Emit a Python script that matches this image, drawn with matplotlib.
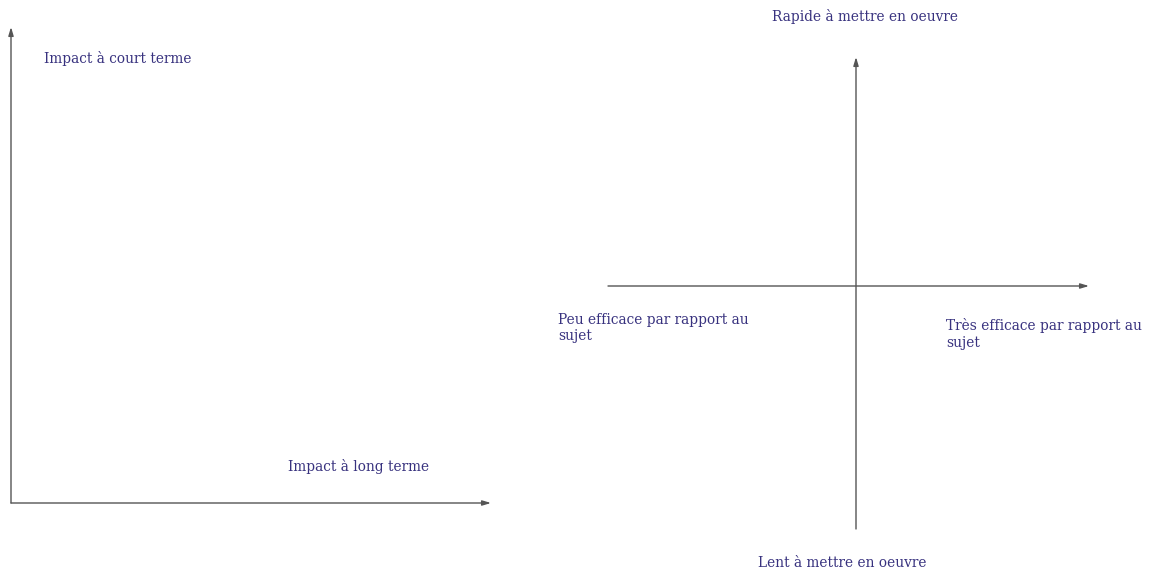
import matplotlib
matplotlib.use("Agg")
import matplotlib.pyplot as plt

# axis labels of the two diagrams
left_labels = ["Impact à court terme", "Impact à long terme"]
right_labels = ["Rapide à mettre en oeuvre", "Lent à mettre en oeuvre",
                "Peu efficace par rapport au\nsujet", "Très efficace par rapport au\nsujet"]

TXT = "#38327f"
ARR = "#555555"

fig = plt.figure(figsize=(11.5, 5.74), dpi=100)
ax = fig.add_axes([0, 0, 1, 1])
ax.set_xlim(0, 1150)
ax.set_ylim(574, 0)
ax.axis("off")

def arrow(x0, y0, x1, y1):
    ax.annotate("", xy=(x1, y1), xytext=(x0, y0),
                arrowprops=dict(arrowstyle="-|>,head_length=0.5,head_width=0.15",
                                color=ARR, lw=1.0, shrinkA=0, shrinkB=0))

font = dict(family=["DejaVu Serif"], fontsize=9.9, color=TXT)

# left diagram
arrow(11, 503, 11, 27)
arrow(11, 503, 491, 503)
ax.text(44, 59, left_labels[0], va="center", ha="left", **font)
ax.text(288, 466, left_labels[1], va="center", ha="left", **font)

# right diagram
arrow(608, 286, 1089, 286)
arrow(856, 529, 856, 57)
ax.text(865, 17, right_labels[0], va="center", ha="center", **font)
ax.text(842, 563, right_labels[1], va="center", ha="center", **font)
ax.text(558, 328, right_labels[2], va="center", ha="left", linespacing=1.2, **font)
ax.text(946, 334, right_labels[3], va="center", ha="left", linespacing=1.2, **font)

fig.savefig("out.png", dpi=100, facecolor="white")
